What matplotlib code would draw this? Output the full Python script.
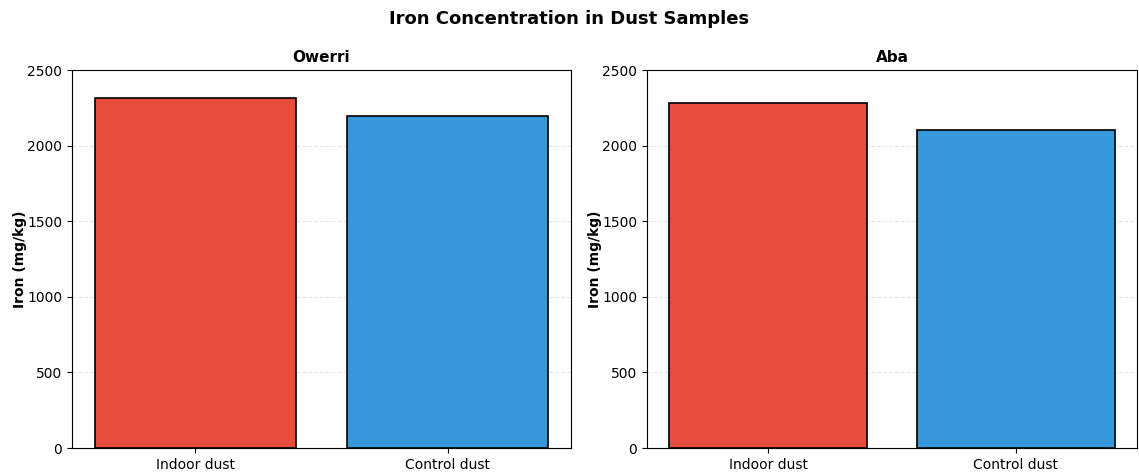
import matplotlib
matplotlib.use("Agg")
from matplotlib import pyplot as plt

categories = ["Indoor dust", "Control dust"]
owerri = [2315, 2195]
aba = [2285, 2100]
colors = ["#e74c3c", "#3498db"]

W, H = 1139, 474
fig, axs = plt.subplots(1, 2, figsize=(W / 100, H / 100), dpi=100)
fig.suptitle("Iron Concentration in Dust Samples", fontsize=13, fontweight="bold", y=0.978)

# axes boxes in pixels (left, right), shared top/bottom
boxes = [(72, 571), (647, 1137)]
for ax, (x0, x1) in zip(axs, boxes):
    ax.set_position([x0 / W, 1 - 448 / H, (x1 - x0) / W, (448 - 70) / H])

for ax, vals, name in zip(axs, [owerri, aba], ["Owerri", "Aba"]):
    ax.bar(categories, vals, color=colors, edgecolor="black", linewidth=1.2, width=0.8)
    ax.set_title(name, fontsize=11, fontweight="bold")
    ax.set_ylabel("Iron (mg/kg)", fontsize=10, fontweight="bold", labelpad=0)
    ax.set_ylim(0, 2500)
    ax.grid(axis="y", linestyle="--", alpha=0.3)
    ax.set_axisbelow(True)

plt.savefig("out.png", dpi=100)
